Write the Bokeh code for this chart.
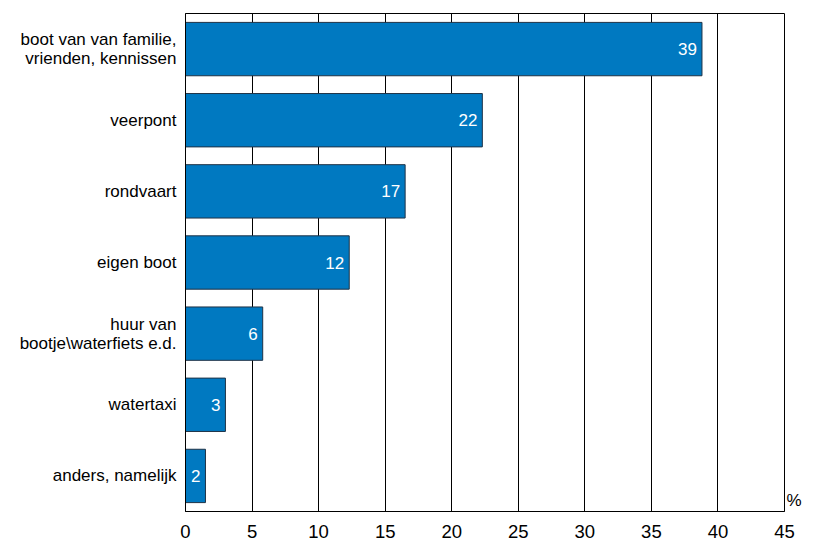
from bokeh.plotting import figure
from bokeh.models import ColumnDataSource, Range1d, FixedTicker, LinearAxis
from bokeh.core.properties import value
from bokeh.embed import file_html
from bokeh.resources import INLINE

categories = ["boot van van familie,\nvrienden, kennissen", "veerpont", "rondvaart",
              "eigen boot", "huur van\nbootje\\waterfiets e.d.", "watertaxi", "anders, namelijk"]
values = [38.8, 22.3, 16.5, 12.3, 5.8, 3.0, 1.5]
value_labels = ["39", "22", "17", "12", "6", "3", "2"]
x_ticks = [0, 5, 10, 15, 20, 25, 30, 35, 40, 45]
unit_label = "%"

FONT = "Liberation Sans"

n = len(categories)
ypos = [n - i - 0.5 for i in range(n)]  # first category at the top
src = ColumnDataSource(dict(y=ypos, val=values, lab=value_labels))

p = figure(width=804, height=540, output_backend="svg", toolbar_location=None,
           y_range=Range1d(0, n), x_range=Range1d(0, 45),
           min_border_left=185, min_border_right=18, min_border_top=13, min_border_bottom=27)

p.outline_line_color = "black"
p.outline_line_width = 1
p.background_fill_color = "white"
p.border_fill_color = "white"

p.hbar(y="y", right="val", left=0, height=0.75, source=src,
       fill_color="#0079c1", line_color="#1e3246", line_width=1)

p.text(x="val", y="y", text="lab", source=src, x_offset=-5,
       text_align="right", text_baseline="middle", text_color="white",
       text_font_size="17px", text_font=value(FONT))

# grid
p.ygrid.grid_line_color = None
p.xgrid.ticker = FixedTicker(ticks=x_ticks)
p.xgrid.grid_line_color = "black"
p.xgrid.grid_line_width = 1

# x axis
p.xaxis.ticker = FixedTicker(ticks=x_ticks)
p.xaxis.major_tick_line_color = None
p.xaxis.minor_tick_line_color = None
p.xaxis.major_tick_out = 0
p.xaxis.major_tick_in = 0
p.xaxis.major_label_standoff = 13
p.xaxis.major_label_text_font = FONT
p.xaxis.major_label_text_font_size = "18.5px"
p.xaxis.major_label_text_color = "black"
p.xaxis.axis_line_color = "black"

# y axis with category labels
p.yaxis.ticker = FixedTicker(ticks=ypos)
p.yaxis.major_label_overrides = {y: c for y, c in zip(ypos, categories)}
p.yaxis.major_tick_line_color = None
p.yaxis.minor_tick_line_color = None
p.yaxis.major_tick_out = 0
p.yaxis.major_tick_in = 0
p.yaxis.major_label_standoff = 9
p.yaxis.major_label_text_font = FONT
p.yaxis.major_label_text_font_size = "17px"
p.yaxis.major_label_text_color = "black"
p.yaxis.major_label_text_line_height = 1.0
p.yaxis.axis_line_color = "black"

# unit label "%" at the lower right, outside the frame
unit_pos = 0.15
unit_axis = LinearAxis(ticker=FixedTicker(ticks=[unit_pos]),
                       major_label_overrides={unit_pos: unit_label},
                       axis_line_color=None, major_tick_line_color=None,
                       minor_tick_line_color=None, major_tick_out=0, major_tick_in=0,
                       major_label_standoff=2, major_label_text_font=FONT,
                       major_label_text_font_size="17px", major_label_text_color="black")
p.add_layout(unit_axis, "right")

open("out.html", "w").write(file_html(p, INLINE))
